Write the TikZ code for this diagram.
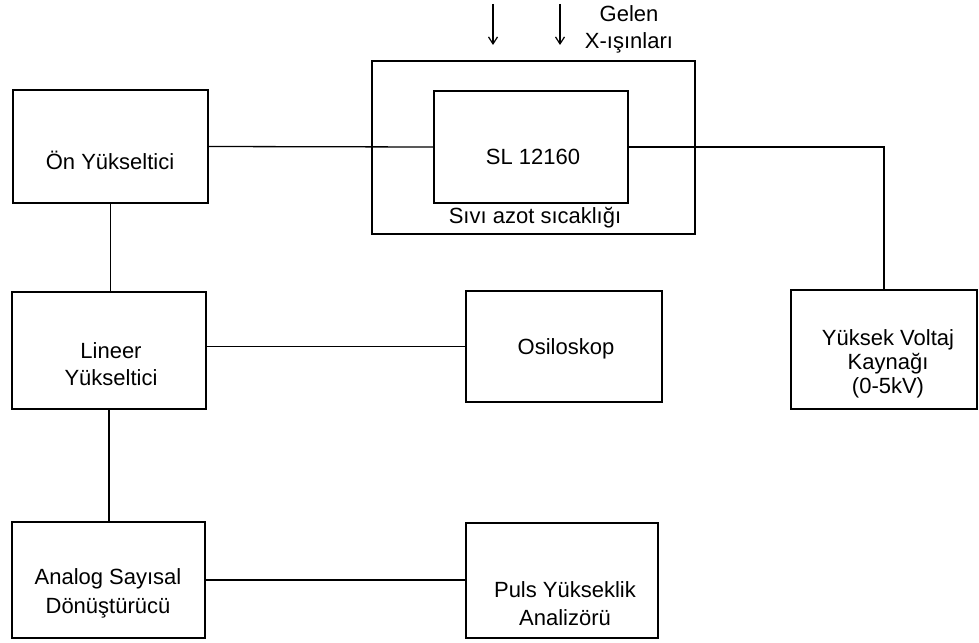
\documentclass[tikz,border=0pt]{standalone}
\usepackage{fontspec}
\setmainfont{Liberation Sans}
\usetikzlibrary{arrows.meta}
\begin{document}
\begin{tikzpicture}[x=1pt,y=-1pt,
  box/.style={draw, line width=1.6pt, rectangle, inner sep=0pt},
  lbl/.style={inner sep=0pt, align=center, font=\fontsize{22}{27}\selectfont},
  conn/.style={line width=1.3pt},
  ray/.style={line width=1.2pt, -{Straight Barb[length=7pt,width=9pt]}}]
\useasboundingbox (0,0) rectangle (979,642);
% boxes
\node[box, minimum width=195pt, minimum height=113pt] (on) at (110.5,146.5) {};
\node[box, minimum width=323pt, minimum height=173pt] (outer) at (533.5,147.5) {};
\node[box, minimum width=194pt, minimum height=112pt] (inner) at (531,147) {};
\node[box, minimum width=194pt, minimum height=117pt] (lin) at (109,350.5) {};
\node[box, minimum width=196pt, minimum height=111pt] (osc) at (564,346.5) {};
\node[box, minimum width=186pt, minimum height=119pt] (yuk) at (884,349.5) {};
\node[box, minimum width=193pt, minimum height=116pt] (adc) at (108.5,580) {};
\node[box, minimum width=192pt, minimum height=115pt] (pha) at (562,580.5) {};
% texts
\node[lbl] (tOn) at (110,160) {Ön Yükseltici};
\node[lbl] (tSL) at (533,157) {SL 12160};
\node[lbl] (tLN2) at (535,218) {Sıvı azot sıcaklığı};
\node[lbl] (tLin) at (111,364) {Lineer\\Yükseltici};
\node[lbl] (tOsc) at (566,349) {Osiloskop};
\node[lbl, font=\fontsize{22}{24}\selectfont] (tYuk) at (888,364) {Yüksek Voltaj\\Kaynağı\\(0-5kV)};
\node[lbl, font=\fontsize{22}{29}\selectfont] (tAdc) at (108,593) {Analog Sayısal\\Dönüştürücü};
\node[lbl, font=\fontsize{22}{28}\selectfont] (tPha) at (565,604) {Puls Yükseklik\\Analizörü};
\node[lbl] (tX) at (629,29) {Gelen\\X-ışınları};
% incoming rays
\coordinate (r1s) at (493,4);
\coordinate (r1e) at (493,45);
\coordinate (r2s) at (560,4);
\coordinate (r2e) at (560,45);
\draw[ray] (r1s) -- (r1e);
\draw[ray] (r2s) -- (r2e);
% connectors
\draw[conn] (on.east) -- (inner.west);
\draw[conn] (inner.east) -| (yuk.north);
\draw[conn] (on.south) -- (on.south |- lin.north);
\draw[conn] (osc.west) -- (osc.west -| lin.east);
\draw[conn] (lin.south) -- (lin.south |- adc.north);
\draw[conn] (adc.east) -- (adc.east -| pha.west);
\end{tikzpicture}
\end{document}
